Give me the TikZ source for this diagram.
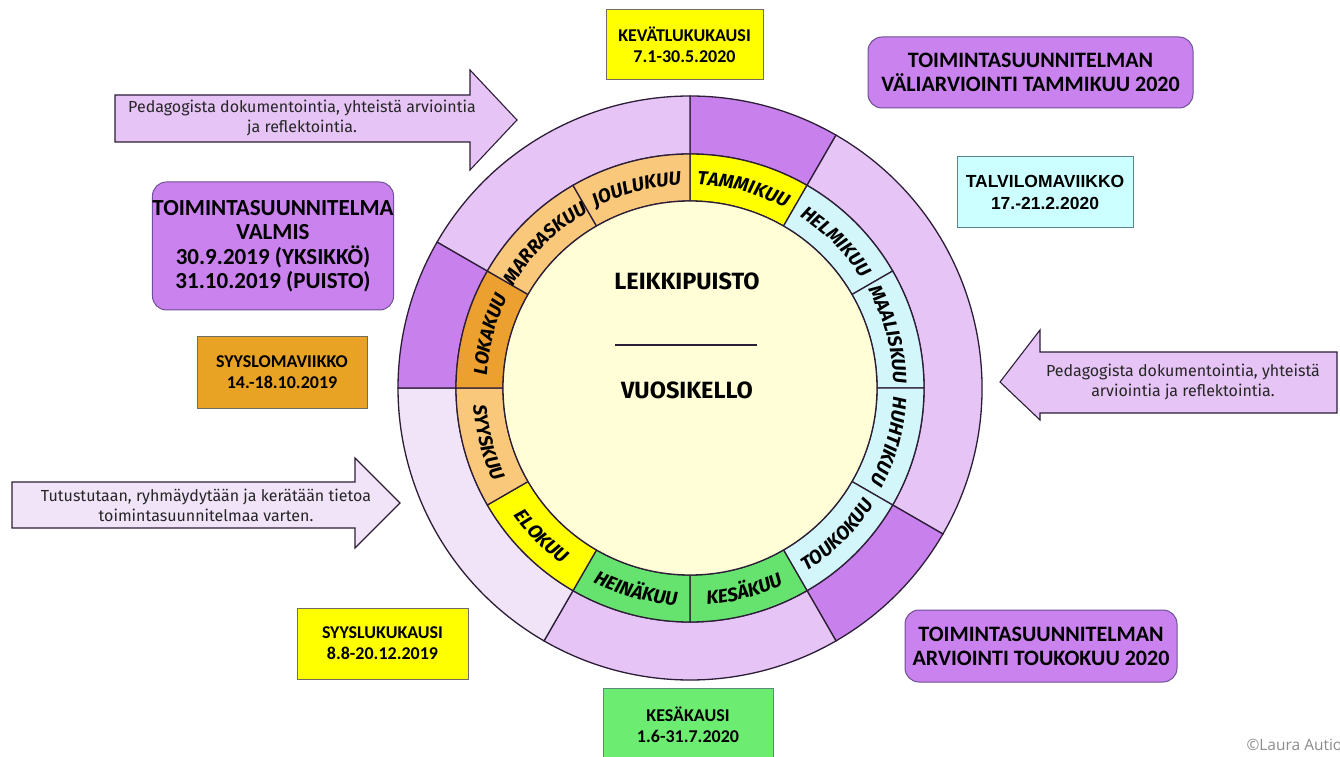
\documentclass[tikz,border=0pt]{standalone}
\usepackage{fontspec}
\setmainfont{Carlito}
\newfontfamily\arrowfont{Fira Sans}
\newfontfamily\comicfont{Fira Sans}
\newfontfamily\arialfont{Liberation Sans}
\newfontfamily\copyfont{Open Sans}
\usetikzlibrary{decorations.text}
\definecolor{ringline}{RGB}{45,30,55}
\definecolor{darkpurple}{RGB}{200,128,236}
\definecolor{lightpurple}{RGB}{230,196,245}
\definecolor{vlightpurple}{RGB}{241,228,249}
\definecolor{boxpurple}{RGB}{202,130,238}
\definecolor{purpleedge}{RGB}{110,80,150}
\definecolor{myyellow}{RGB}{255,255,0}
\definecolor{mycyan}{RGB}{210,246,250}
\definecolor{boxcyan}{RGB}{204,255,255}
\definecolor{mygreen}{RGB}{102,226,110}
\definecolor{boxgreen}{RGB}{108,236,112}
\definecolor{lorange}{RGB}{250,200,122}
\definecolor{dorange}{RGB}{236,160,48}
\definecolor{boxorange}{RGB}{232,162,36}
\definecolor{cream}{RGB}{255,254,214}
\definecolor{grayedge}{RGB}{110,110,100}
\newcommand\ringseg[5]{\filldraw[fill=#5,draw=ringline,line width=1.3] (#3:#1) arc[start angle=#3,end angle=#4,radius=#1] -- (#4:#2) arc[start angle=#4,end angle=#3,radius=#2] -- cycle;}
\newcommand\cwlabel[3]{\path[decorate,decoration={text along path,text align=center,text={|\comicfont\bfseries\itshape\fontsize{19}{19}\selectfont|#3}}] (#1+14:203.5) arc[start angle=#1+14,end angle=#2-14,radius=203.5];}
\newcommand\ccwlabel[3]{\path[decorate,decoration={text along path,text align=center,text={|\comicfont\bfseries\itshape\fontsize{19}{19}\selectfont|#3}}] (#1-14:217.5) arc[start angle=#1-14,end angle=#2+14,radius=217.5];}
\begin{document}
\begin{tikzpicture}[x=1pt,y=1pt,
  infobox/.style={draw=grayedge,line width=1,align=center,inner sep=0pt,font=\bfseries\fontsize{18}{21}\selectfont},
  purplebox/.style={draw=purpleedge,fill=boxpurple,line width=1,rounded corners=14,align=center,inner sep=0pt,font=\bfseries\fontsize{22}{24}\selectfont},
  arrowshape/.style={draw=ringline,line width=1.1},
  arrowtext/.style={align=center,font=\arrowfont\fontsize{16}{20}\selectfont,text=black!85}]
\useasboundingbox (0,0) rectangle (1340,756);
\fill[white] (0,0) rectangle (1340,756);

% ---- wheel ----
\begin{scope}[shift={(690,368)}]
\ringseg{234}{292}{90}{60}{darkpurple}
\ringseg{234}{292}{60}{-30}{lightpurple}
\ringseg{234}{292}{-30}{-60}{darkpurple}
\ringseg{234}{292}{-60}{-120}{lightpurple}
\ringseg{234}{292}{-120}{-180}{vlightpurple}
\ringseg{234}{292}{180}{150}{darkpurple}
\ringseg{234}{292}{150}{90}{lightpurple}
\ringseg{187}{234}{90}{60}{myyellow}
\ringseg{187}{234}{60}{30}{mycyan}
\ringseg{187}{234}{30}{0}{mycyan}
\ringseg{187}{234}{0}{-30}{mycyan}
\ringseg{187}{234}{-30}{-60}{mycyan}
\ringseg{187}{234}{-60}{-90}{mygreen}
\ringseg{187}{234}{-90}{-120}{mygreen}
\ringseg{187}{234}{-120}{-150}{myyellow}
\ringseg{187}{234}{-150}{-180}{lorange}
\ringseg{187}{234}{180}{150}{dorange}
\ringseg{187}{234}{150}{120}{lorange}
\ringseg{187}{234}{120}{90}{lorange}
\filldraw[fill=cream,draw=ringline,line width=1.3] (0,0) circle[radius=187];
\cwlabel{180}{150}{LOKAKUU}
\cwlabel{150}{120}{MARRASKUU}
\cwlabel{120}{90}{JOULUKUU}
\cwlabel{90}{60}{TAMMIKUU}
\cwlabel{60}{30}{HELMIKUU}
\cwlabel{30}{0}{MAALISKUU}
\cwlabel{0}{-30}{HUHTIKUU}
\ccwlabel{-60}{-30}{TOUKOKUU}
\ccwlabel{-90}{-60}{KESÄKUU}
\ccwlabel{-120}{-90}{HEINÄKUU}
\ccwlabel{-150}{-120}{ELOKUU}
\ccwlabel{-180}{-150}{SYYSKUU}
\end{scope}

\node[font=\comicfont\bfseries\fontsize{23.5}{23.5}\selectfont] (title1) at (687,475) {LEIKKIPUISTO};
\node[font=\comicfont\bfseries\fontsize{23.5}{23.5}\selectfont] (title2) at (687,366) {VUOSIKELLO};
\coordinate (rulel) at (615,411);
\coordinate (ruler) at (757,411);
\draw[line width=2,ringline] (rulel) -- (ruler);

% ---- boxes ----
\node[infobox,fill=myyellow,minimum width=157,minimum height=70] (kevat) at (684.5,711) {KEVÄTLUKUKAUSI\\7.1-30.5.2020};
\node[purplebox,minimum width=325,minimum height=71] (vali) at (1030.5,683.5) {TOIMINTASUUNNITELMAN\\VÄLIARVIOINTI TAMMIKUU 2020};
\node[infobox,draw={rgb,255:red,90;green,130;blue,150},fill=boxcyan,minimum width=176,minimum height=71,font=\arialfont\bfseries\fontsize{17.5}{22}\selectfont] (talvi) at (1045,563.5) {TALVILOMAVIIKKO\\17.-21.2.2020};
\node[purplebox,minimum width=240,minimum height=128,font=\bfseries\fontsize{23}{24.5}\selectfont] (valmis) at (273,510) {TOIMINTASUUNNITELMA\\VALMIS\\30.9.2019 (YKSIKKÖ)\\31.10.2019 (PUISTO)};
\node[infobox,fill=boxorange,minimum width=170,minimum height=71] (syysloma) at (282,383.5) {SYYSLOMAVIIKKO\\14.-18.10.2019};
\node[infobox,fill=myyellow,minimum width=171,minimum height=71] (syysluku) at (382.5,112.5) {SYYSLUKUKAUSI\\8.8-20.12.2019};
\node[infobox,fill=boxgreen,draw={rgb,255:red,90;green,140;blue,120},minimum width=170,minimum height=74] (kesa) at (688,31) {KESÄKAUSI\\1.6-31.7.2020};
\node[purplebox,minimum width=272,minimum height=72] (arvio) at (1041,110) {TOIMINTASUUNNITELMAN\\ARVIOINTI TOUKOKUU 2020};

% ---- arrows ----
\filldraw[arrowshape,fill=lightpurple] (115,661) -- (470,661) -- (470,686) -- (517,636) -- (470,586) -- (470,614) -- (115,614) -- cycle;
\node[arrowtext] (arrow1) at (302,638) {Pedagogista dokumentointia, yhteistä arviointia\\ja reflektointia.};
\filldraw[arrowshape,fill=lightpurple] (1337,404) -- (1040,404) -- (1040,426) -- (1000,374) -- (1040,336) -- (1040,343) -- (1337,343) -- cycle;
\node[arrowtext] (arrow2) at (1183,374) {Pedagogista dokumentointia, yhteistä\\arviointia ja reflektointia.};
\filldraw[arrowshape,fill=vlightpurple] (12,274) -- (355,274) -- (355,298) -- (400,253) -- (355,208) -- (355,228) -- (12,228) -- cycle;
\node[arrowtext] (arrow3) at (206,251) {Tutustutaan, ryhmäydytään ja kerätään tietoa\\toimintasuunnitelmaa varten.};

\node[anchor=west,text=black!45,font=\copyfont\fontsize{15.5}{15.5}\selectfont] (copy) at (1243,11) {©Laura Autio};
\end{tikzpicture}
\end{document}
